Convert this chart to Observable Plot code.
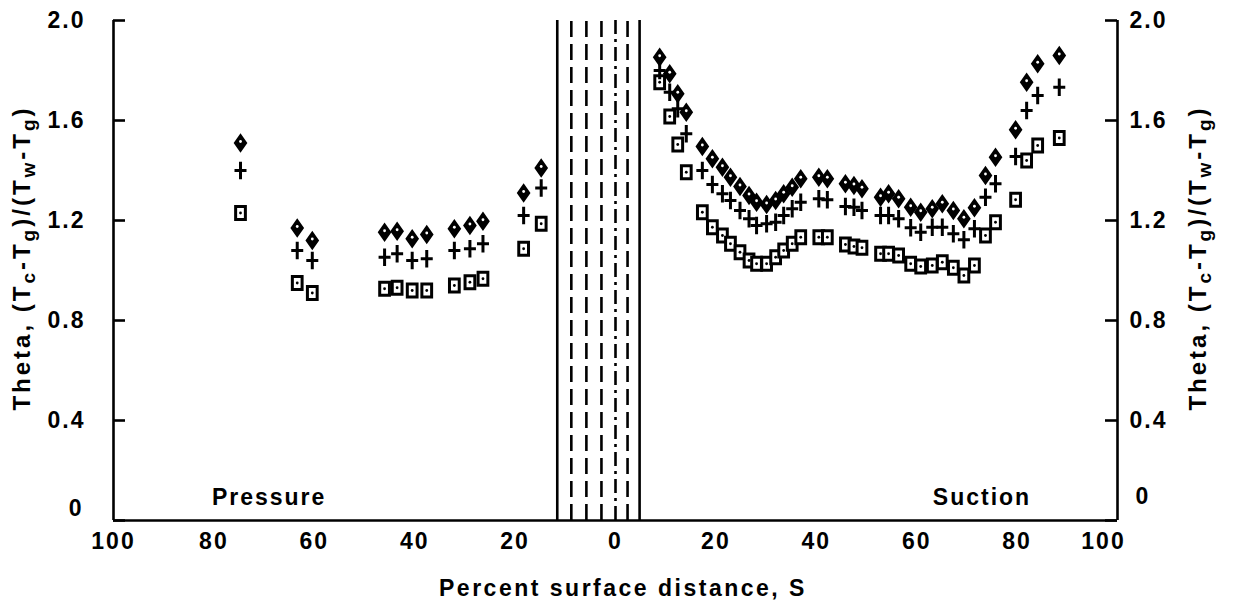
<!DOCTYPE html>
<html><head><meta charset="utf-8">
<script src="https://cdn.jsdelivr.net/npm/d3@7"></script>
<script src="https://cdn.jsdelivr.net/npm/@observablehq/plot@0.6"></script>
<style>
body{margin:0;background:#fff;}
#chart svg text{font-family:"Liberation Sans Narrow","Liberation Sans",Arial,sans-serif;font-weight:bold;fill:#000;}
</style></head><body><div id="chart"></div>
<script>
// ---- data (percent surface distance S; pressure side plotted to the left) ----
const pressureS       = [74.7, 63.4, 60.4, 46.0, 43.5, 40.5, 37.6, 32.1, 29.0, 26.4, 18.3, 14.8];
const pressureDiamond = [1.51, 1.17, 1.12, 1.153, 1.157, 1.127, 1.144, 1.167, 1.18, 1.197, 1.31, 1.41];
const pressurePlus    = [1.40, 1.08, 1.04, 1.053, 1.067, 1.04, 1.047, 1.08, 1.087, 1.107, 1.22, 1.33];
const pressureSquare  = [1.23, 0.95, 0.91, 0.927, 0.931, 0.92, 0.92, 0.94, 0.953, 0.967, 1.087, 1.187];

const suctionS = [8.8, 10.8, 12.4, 14.1, 17.3, 19.3, 21.3, 22.9, 24.8, 26.6, 28.1, 30.1, 31.9, 33.5, 35.2, 36.9,
  40.5, 42.2, 45.8, 47.5, 49.1, 52.8, 54.4, 56.4, 58.8, 60.8, 63.1, 65.1, 67.3, 69.4, 71.5, 73.7, 75.7, 79.7, 81.9, 84.1, 88.4];
const suctionDiamond = [1.853, 1.787, 1.707, 1.633, 1.496, 1.447, 1.413, 1.373, 1.336, 1.30, 1.273, 1.264, 1.28, 1.307, 1.333, 1.367,
  1.373, 1.367, 1.347, 1.34, 1.327, 1.293, 1.307, 1.287, 1.253, 1.233, 1.247, 1.267, 1.24, 1.207, 1.251, 1.38, 1.453, 1.563, 1.753, 1.827, 1.86];
const suctionPlus = [1.80, 1.713, 1.647, 1.547, 1.40, 1.344, 1.307, 1.28, 1.24, 1.207, 1.18, 1.187, 1.193, 1.22, 1.247, 1.273,
  1.287, 1.283, 1.256, 1.253, 1.24, 1.22, 1.22, 1.207, 1.171, 1.153, 1.173, 1.173, 1.147, 1.123, 1.167, 1.293, 1.347, 1.456, 1.64, 1.70, 1.733];
const suctionSquare = [1.753, 1.616, 1.504, 1.393, 1.233, 1.173, 1.14, 1.107, 1.073, 1.04, 1.027, 1.027, 1.053, 1.08, 1.107, 1.133,
  1.133, 1.133, 1.104, 1.096, 1.091, 1.067, 1.067, 1.06, 1.027, 1.016, 1.02, 1.033, 1.011, 0.98, 1.02, 1.14, 1.193, 1.283, 1.44, 1.50, 1.53];

const holeRows  = [-11.6, -8.8, -5.8, -2.8, 0, 2.4, 4.8];
const holeKinds = ["edge", "row", "row", "row", "stag", "row", "edge"];

const xTicks = [-100, -80, -60, -40, -20, 0, 20, 40, 60, 80, 100];
const yTicks = [0, 0.4, 0.8, 1.2, 1.6, 2.0];
const sideNames = ["Pressure", "Suction"];
const sideNameS = [-69, 73];

// ---- build tables ----
const toRows = (sArr, vals, sign) => sArr.map((s, i) => ({x: sign * s, y: vals[i]}));
const diamonds = [...toRows(pressureS, pressureDiamond, -1), ...toRows(suctionS, suctionDiamond, 1)];
const pluses   = [...toRows(pressureS, pressurePlus, -1),    ...toRows(suctionS, suctionPlus, 1)];
const squares  = [...toRows(pressureS, pressureSquare, -1),  ...toRows(suctionS, suctionSquare, 1)];
const lines = holeRows.map((x, i) => ({x, kind: holeKinds[i]}));
const sides = sideNames.map((t, i) => ({t, x: sideNameS[i]}));

// custom tall symbols
const tallDiamond = {draw(ctx, size) { const r = Math.sqrt(size / Math.PI);
  ctx.moveTo(0, -r * 1.15); ctx.lineTo(r * 0.8, 0); ctx.lineTo(0, r * 1.15); ctx.lineTo(-r * 0.8, 0); ctx.closePath(); }};
const tallRect = {draw(ctx, size) { const r = Math.sqrt(size / Math.PI);
  ctx.moveTo(-r * 0.75, -r); ctx.lineTo(r * 0.75, -r); ctx.lineTo(r * 0.75, r); ctx.lineTo(-r * 0.75, r); ctx.closePath(); }};
const tallPlus = {draw(ctx, size) { const r = Math.sqrt(size / Math.PI);
  ctx.moveTo(0, -r * 1.45); ctx.lineTo(0, r * 1.45); ctx.moveTo(-r, 0); ctx.lineTo(r, 0); }};

const W = 1240, H = 610, mL = 113, mR = 123, mT = 20, mB = 90;
const plotW = W - mL - mR;
const fmt = d => d === 0 ? "0" : d.toFixed(1);
const SW = 2.6;
const yMin = yTicks[0], yMax = yTicks[yTicks.length - 1];
const xMin = xTicks[0], xMax = xTicks[xTicks.length - 1];

const chart = Plot.plot({
  width: W, height: H, marginLeft: mL, marginRight: mR, marginTop: mT, marginBottom: mB,
  x: {domain: [xMin, xMax]},
  y: {domain: [yMin, yMax]},
  style: {fontSize: "23px", background: "#fff", color: "#000", overflow: "visible"},
  marks: [
    Plot.ruleX(lines.filter(d => d.kind === "edge"), {x: "x", y1: yMin, y2: yMax, stroke: "black", strokeWidth: SW}),
    Plot.ruleX(lines.filter(d => d.kind === "row"), {x: "x", y1: yMin, y2: yMax, stroke: "black", strokeWidth: SW, strokeDasharray: "16,7"}),
    Plot.ruleX(lines.filter(d => d.kind === "stag"), {x: "x", y1: yMin, y2: yMax, stroke: "black", strokeWidth: SW, strokeDasharray: "14,5,3,5"}),
    // frame: left, right, bottom
    Plot.ruleX([xMin, xMax], {y1: yMin, y2: yMax, stroke: "black", strokeWidth: SW}),
    Plot.ruleY([yMin], {stroke: "black", strokeWidth: SW}),
    // inward y ticks
    Plot.tickY(yTicks, {y: d => d, insetRight: plotW - 12, stroke: "black", strokeWidth: SW}),
    Plot.tickY(yTicks, {y: d => d, insetLeft: plotW - 12, stroke: "black", strokeWidth: SW}),
    Plot.axisX(xTicks.slice(0, -1), {tickSize: 0, tickPadding: 12, tickFormat: d => Math.abs(d), label: null}),
    Plot.text(xTicks.slice(-1), {x: d => d, text: d => Math.abs(d), frameAnchor: "bottom", dy: 12, dx: -14, lineAnchor: "top"}),
    Plot.axisY(yTicks.slice(1), {anchor: "left", tickSize: 0, tickPadding: 28, tickFormat: fmt, label: null}),
    Plot.axisY(yTicks.slice(1), {anchor: "right", tickSize: 0, tickPadding: 12, tickFormat: fmt, label: null}),
    Plot.text(yTicks.slice(0, 1), {y: d => d, text: fmt, frameAnchor: "left", textAnchor: "end", dx: -30, dy: -12}),
    Plot.text(yTicks.slice(0, 1), {y: d => d, text: fmt, frameAnchor: "right", textAnchor: "start", dx: 18, dy: -24}),
    Plot.text(sides, {x: "x", text: "t", frameAnchor: "bottom", dy: -16}),
    // markers
    Plot.dot(squares, {x: "x", y: "y", symbol: tallRect, r: 6.5, fill: "white", stroke: "black", strokeWidth: 3}),
    Plot.dot(squares, {x: "x", y: "y", r: 1.4, fill: "black"}),
    Plot.dot(pluses, {x: "x", y: "y", symbol: tallPlus, r: 6, fill: "none", stroke: "black", strokeWidth: 3}),
    Plot.dot(diamonds, {x: "x", y: "y", symbol: tallDiamond, r: 6.3, fill: "black", stroke: "black", strokeWidth: 3}),
    Plot.dot(diamonds, {x: "x", y: "y", r: 1.4, fill: "white", dy: -1.5})
  ]
});
document.getElementById("chart").appendChild(chart);

// axis titles with subscripts
const svg = d3.select(chart);
svg.selectAll("text").style("letter-spacing", "2px");
function yTitle(x) {
  const t = svg.append("text")
    .attr("transform", `translate(${x},${mT + (H - mT - mB) / 2 - 12}) rotate(-90)`)
    .attr("text-anchor", "middle").attr("font-size", 24).style("letter-spacing", "3px");
  const parts = [["Theta, (T", 0], ["c", 1], ["-T", 0], ["g", 1], [")/(T", 0], ["w", 1], ["-T", 0], ["g", 1], [")", 0]];
  parts.forEach(([s, sub]) => {
    const ts = t.append("tspan").text(s);
    if (sub) ts.attr("font-size", 19).attr("baseline-shift", "-25%");
  });
}
yTitle(30);
yTitle(1206);
svg.append("text").attr("x", mL + plotW / 2 + 8).attr("y", 596).attr("text-anchor", "middle")
  .attr("font-size", 23).style("letter-spacing", "2.5px").text("Percent surface distance, S");
</script></body></html>
